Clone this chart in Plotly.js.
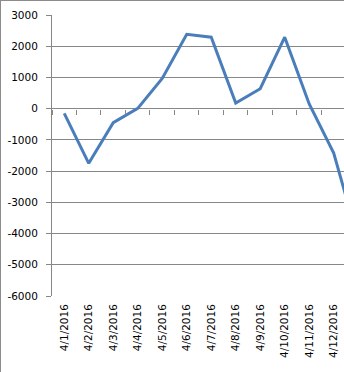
<!DOCTYPE html>
<html>
<head>
<meta charset="utf-8">
<script src="https://cdn.plot.ly/plotly-3.0.1.min.js"></script>
<style>
html,body{margin:0;padding:0;background:#fff;overflow:hidden;}
#wrap{position:relative;width:344px;height:372px;}
#chart{width:344px;height:372px;}
#frame{position:absolute;left:0;top:0;width:400px;height:371px;border-left:1px solid #8c8c8c;border-top:1px solid #8c8c8c;border-bottom:1px solid #8c8c8c;pointer-events:none;}
</style>
</head>
<body>
<div id="wrap"><div id="chart"></div><div id="frame"></div></div>
<script>
// Data
const dates = ["4/1/2016","4/2/2016","4/3/2016","4/4/2016","4/5/2016","4/6/2016",
               "4/7/2016","4/8/2016","4/9/2016","4/10/2016","4/11/2016","4/12/2016","4/13/2016"];
const values = [-150, -1750, -450, 10, 970, 2380, 2290, 180, 640, 2290, 150, -1420, -4200];
const yTicks = [-6000,-5000,-4000,-3000,-2000,-1000,0,1000,2000,3000];

const gridColor = "#878787";
const tickFont = {family: "DejaVu Sans", size: 10.5, color: "#000"};
const xRange = [-0.5, 11.42];

const traces = [
  {x: dates, y: values, type: "scatter", mode: "lines",
   line: {color: "#4a7ebb", width: 3}, hoverinfo: "skip", showlegend: false,
   cliponaxis: true},
  {x: dates, y: values, xaxis: "x2", type: "scatter", mode: "lines",
   line: {width: 0}, opacity: 0, hoverinfo: "skip", showlegend: false}
];

const layout = {
  width: 344, height: 372,
  margin: {l: 52, r: 0, t: 15, b: 76, pad: 0},
  paper_bgcolor: "#fff", plot_bgcolor: "#fff",
  showlegend: false,
  xaxis: {type: "category", categoryorder: "array", categoryarray: dates,
          range: xRange, showgrid: false, zeroline: false, showline: false,
          ticks: "", tickangle: -90, tickfont: tickFont, ticklabelstandoff: 5},
  xaxis2: {type: "category", categoryorder: "array", categoryarray: dates,
           overlaying: "x", anchor: "free", position: 6000/9000, side: "bottom",
           range: xRange, showgrid: false, zeroline: false, showline: false,
           ticks: "outside", ticklen: 5, tickwidth: 1, tickcolor: gridColor,
           tickson: "boundaries", showticklabels: false},
  yaxis: {range: [-6000, 3000], tickvals: yTicks, ticktext: yTicks.map(String),
          showgrid: true, gridcolor: gridColor, gridwidth: 1,
          zeroline: true, zerolinecolor: gridColor, zerolinewidth: 1,
          showline: true, linecolor: gridColor, linewidth: 1,
          ticks: "outside", ticklen: 5, tickcolor: gridColor,
          tickfont: tickFont, ticklabelstandoff: 6}
};

Plotly.newPlot("chart", traces, layout, {displayModeBar: false, staticPlot: true});
</script>
</body>
</html>
